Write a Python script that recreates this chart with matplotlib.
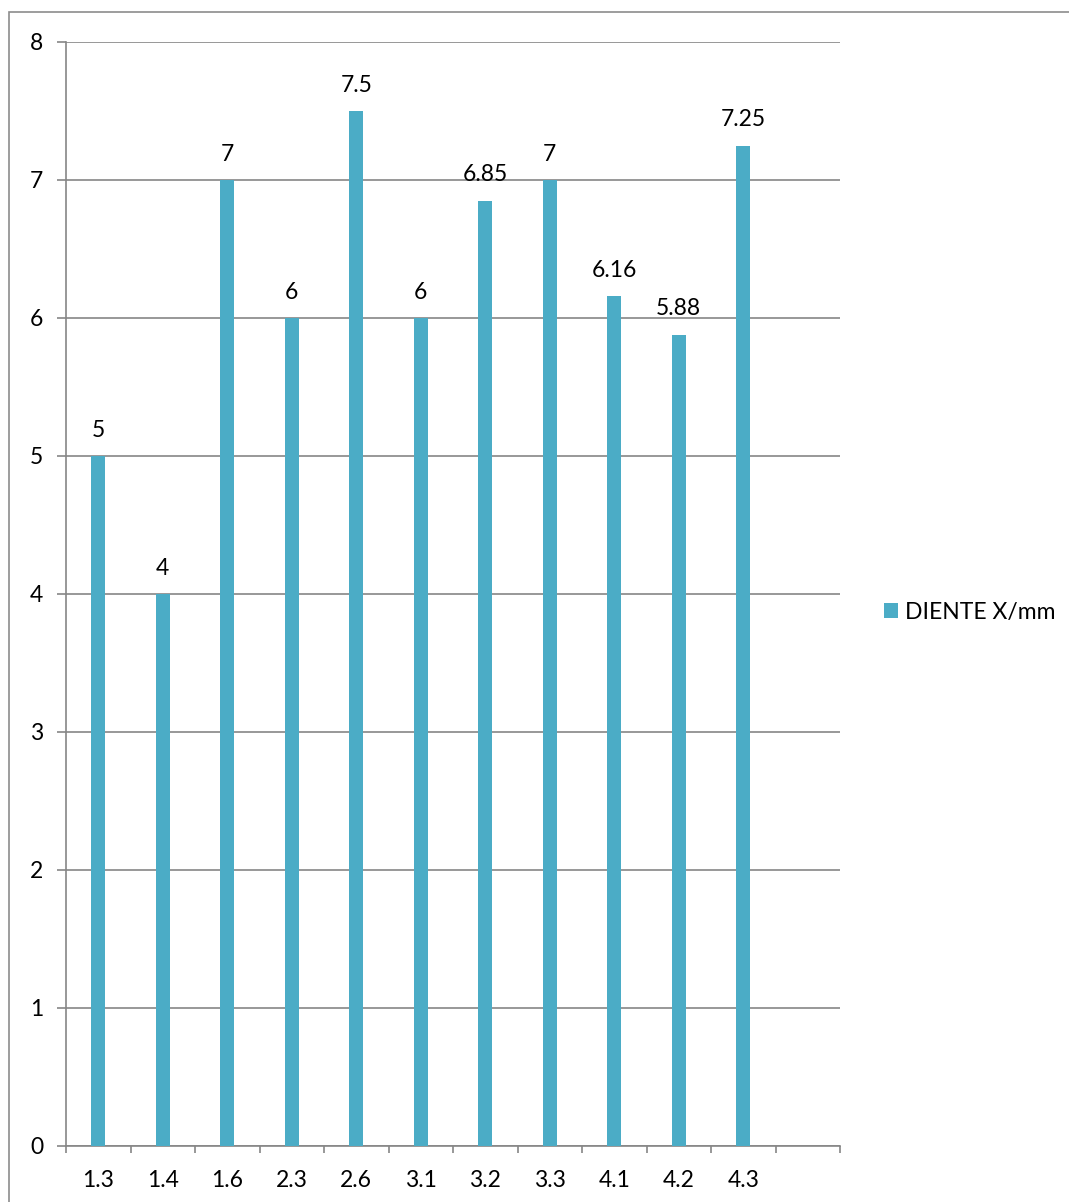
import matplotlib
matplotlib.use("Agg")
import matplotlib.pyplot as plt
from matplotlib.patches import Rectangle, Patch
import numpy as np

categories = ["1.3", "1.4", "1.6", "2.3", "2.6", "3.1", "3.2", "3.3", "4.1", "4.2", "4.3", ""]
values = [5, 4, 7, 6, 7.5, 6, 6.85, 7, 6.16, 5.88, 7.25, None]
value_labels = ["5", "4", "7", "6", "7.5", "6", "6.85", "7", "6.16", "5.88", "7.25", ""]
series_name = "DIENTE X/mm"

bar_color = "#4BACC6"
grid_color = "#868686"
font = ["Lato", "DejaVu Sans"]
plt.rcParams["font.family"] = font
fs = 16.5

W, H = 1069, 1202
fig = plt.figure(figsize=(W / 100, H / 100), dpi=100)

# chart area frame
fig.patches.append(Rectangle((9 / W, -0.01), 1.1, 1 - 12 / H + 0.01,
                             transform=fig.transFigure, fill=False,
                             edgecolor="#8c8c8c", linewidth=1.2, zorder=0))

ax = fig.add_axes([66 / W, 56 / H, (840 - 66) / W, (1146 - 42) / H])

x = np.arange(len(categories))
heights = [v if v is not None else 0 for v in values]
bars = ax.bar(x[:-1], heights[:-1], width=0.22, color=bar_color, zorder=3,
              label=series_name)

for xi, v, lab in zip(x, values, value_labels):
    if v is None:
        continue
    ax.text(xi, v + 0.14, lab, ha="center", va="baseline", fontsize=fs,
            color="black")

ax.set_xlim(-0.5, len(categories) - 0.5)
ax.set_ylim(0, 8)
ax.set_yticks(np.arange(0, 9, 1))
ax.yaxis.grid(True, color=grid_color, linewidth=1.2, zorder=0)
ax.set_axisbelow(True)

# category ticks sit on the boundaries between slots
ax.set_xticks(np.arange(-0.5, len(categories), 1.0))
ax.set_xticklabels([])
ax.set_xticks(x, minor=True)
ax.set_xticklabels(categories, minor=True, fontsize=fs)
ax.tick_params(axis="x", which="minor", length=0, pad=17)
ax.tick_params(axis="x", which="major", length=5, color=grid_color, width=1.2)
ax.tick_params(axis="y", length=6.5, color=grid_color, width=1.2, labelsize=fs,
               pad=10)

for side in ["top", "right"]:
    ax.spines[side].set_visible(False)
for side in ["left", "bottom"]:
    ax.spines[side].set_color(grid_color)
    ax.spines[side].set_linewidth(1.2)

handle = Patch(facecolor=bar_color, edgecolor="none")
fig.legend([handle], [series_name], loc="center left",
           bbox_to_anchor=(863 / W, 1 - 612 / H), frameon=False,
           fontsize=fs, handlelength=0.62, handleheight=0.62, handletextpad=0.3)

fig.savefig("out.png", dpi=100, facecolor="white")
